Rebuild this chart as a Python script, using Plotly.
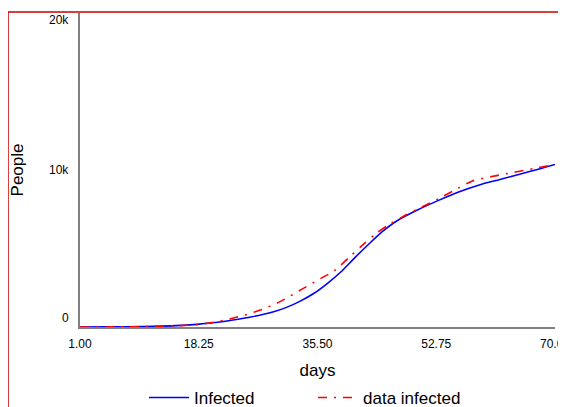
import plotly.graph_objects as go

# Infected (model) - day, people
infected_days = [1, 5, 10, 15, 18, 20, 23, 26, 29, 31, 33, 35, 37, 39, 41, 43, 45, 47, 50, 53, 56, 59, 62, 65, 68, 70]
infected_vals = [0, 5, 30, 90, 170, 250, 430, 650, 950, 1250, 1650, 2150, 2800, 3550, 4450, 5300, 6100, 6750, 7450, 8050, 8600, 9050, 9400, 9750, 10100, 10350]

# data infected
data_days = [1, 8, 12, 15, 18, 21, 24, 27, 30, 33, 36, 38, 40, 42, 44, 46, 48, 50, 53, 56, 58, 61, 64, 67, 70]
data_vals = [0, 10, 40, 80, 150, 350, 650, 1050, 1600, 2350, 3100, 3600, 4400, 5200, 5950, 6550, 7050, 7500, 8150, 8850, 9300, 9600, 9850, 10100, 10350]

x_ticks = [1.00, 18.25, 35.50, 52.75, 70.00]
x_tick_text = ["1.00", "18.25", "35.50", "52.75", "70.00"]
y_ticks = [0, 10000, 20000]
y_tick_text = ["0", "10k", "20k"]

FONT = "Arial, Liberation Sans, sans-serif"
W, H = 558, 399  # page body adds an 8px offset

fig = go.Figure()
fig.add_trace(go.Scatter(x=infected_days, y=infected_vals, mode="lines", name="Infected",
                         line=dict(color="#0000ff", width=1.6, shape="spline", smoothing=0.8)))
fig.add_trace(go.Scatter(x=data_days, y=data_vals, mode="lines", name="data infected",
                         line=dict(color="#ff0000", width=1.6, dash="9px,7px,2px,7px",
                                   shape="spline", smoothing=0.8)))

# y tick labels placed as Vensim does (inside the range)
shifts = {0: 9, 10000: 0, 20000: -7}
annotations = []
for v, t in zip(y_ticks, y_tick_text):
    annotations.append(dict(x=0, xref="paper", y=v, yref="y", text=t, showarrow=False,
                            xanchor="right", xshift=-9, yshift=shifts[v],
                            font=dict(family=FONT, size=12, color="black")))

fig.update_layout(
    width=W, height=H,
    margin=dict(l=72, r=11, t=5, b=80, autoexpand=False),
    paper_bgcolor="white", plot_bgcolor="white",
    font=dict(family=FONT, size=12, color="black"),
    showlegend=True,
    legend=dict(orientation="h", xref="container", x=136 / W, xanchor="left",
                yref="container", y=9 / H, yanchor="middle",
                font=dict(family=FONT, size=17), itemwidth=40, entrywidth=114,
                bgcolor="rgba(0,0,0,0)"),
    xaxis=dict(range=[1, 70], tickvals=x_ticks, ticktext=x_tick_text, showgrid=False,
               zeroline=False, showline=True, linecolor="#808080", linewidth=1.5,
               ticks="outside", ticklen=5, tickcolor="rgba(0,0,0,0)",
               ticklabeloverflow="allow", automargin=False,
               tickfont=dict(family=FONT, size=12),
               title=dict(text="days", font=dict(family=FONT, size=17), standoff=14)),
    yaxis=dict(range=[0, 20000], tickvals=y_ticks, showticklabels=False, showgrid=False,
               zeroline=False, showline=True, linecolor="#808080", linewidth=1.5, ticks="",
               automargin=False,
               title=dict(text="People", font=dict(family=FONT, size=17), standoff=51)),
    annotations=annotations,
    shapes=[dict(type="rect", xref="paper", yref="paper", x0=-72 / 475, x1=1.2, y0=-0.5, y1=315 / 314,
                 line=dict(color="#cc0000", width=1.5), fillcolor="rgba(0,0,0,0)", layer="below")],
)

fig.write_html("out.html")
